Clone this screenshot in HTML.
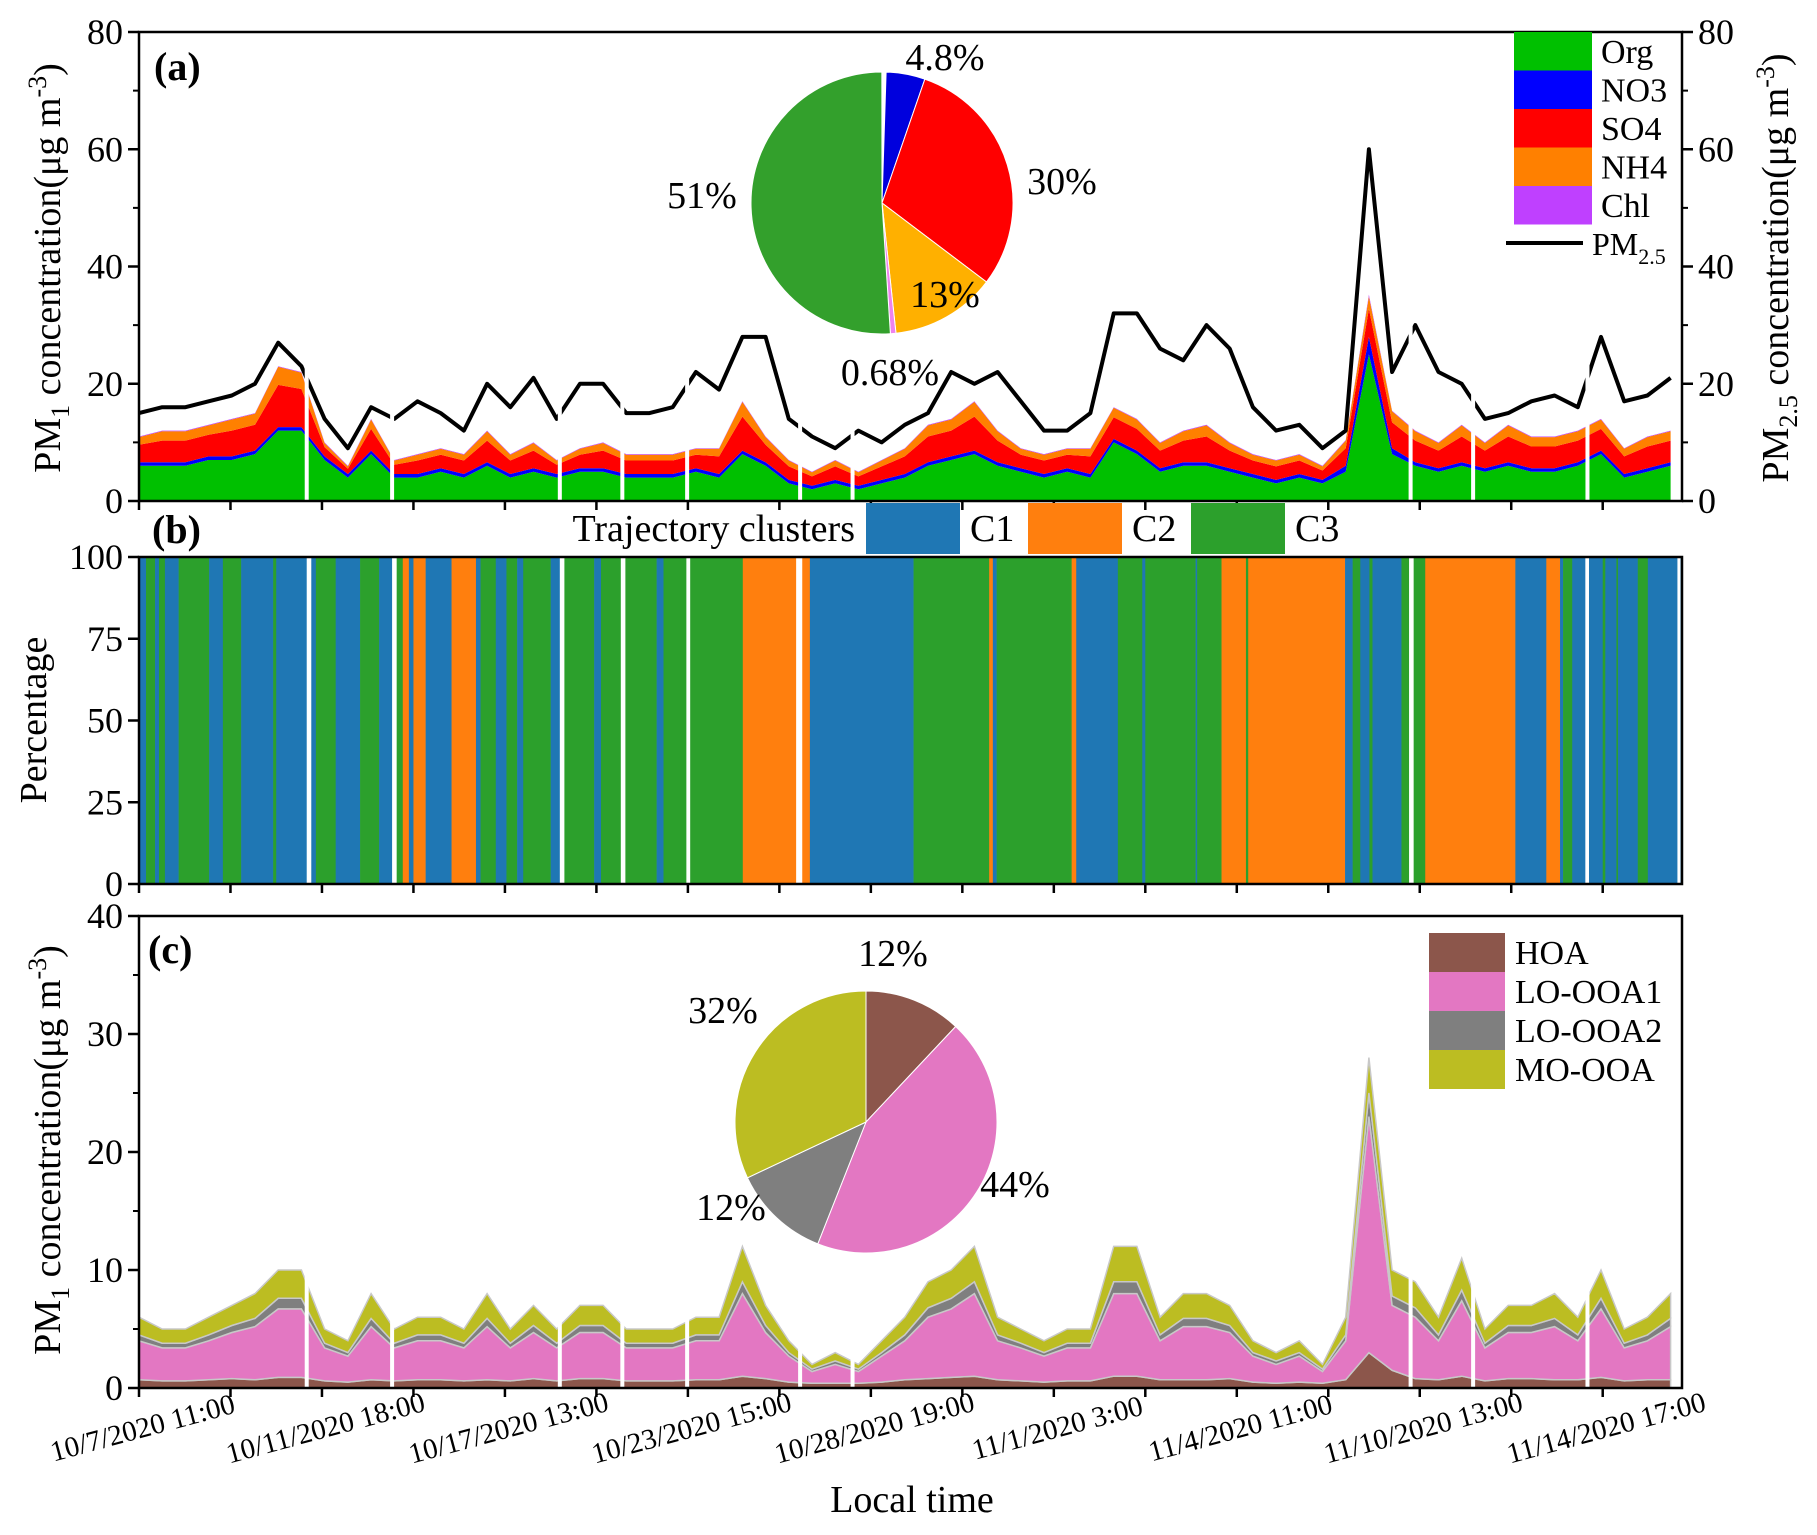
<!DOCTYPE html>
<html><head><meta charset="utf-8">
<style>
html,body{margin:0;padding:0;background:#fff;}
svg, svg text, svg tspan{font-family:"Liberation Serif","Times New Roman",serif;}
</style></head>
<body>
<svg id="chart" width="1817" height="1530" viewBox="0 0 1817 1530" font-family="Liberation Serif, serif" xmlns="http://www.w3.org/2000/svg"></svg>
<script>
// ---------- data ----------
const pm25 = [15,16,16,17,18,20,27,23,14,9,16,14,17,15,12,20,16,21,14,20,20,15,15,16,22,19,28,28,14,11,9,12,10,13,15,22,20,22,17,12,12,15,32,32,26,24,30,26,16,12,13,9,12,60,22,30,22,20,14,15,17,18,16,28,17,18,21];
const org = [6,6,6,7,7,8,12,12,7,4,8,4,4,5,4,6,4,5,4,5,5,4,4,4,5,4,8,6,3,2,3,2,3,4,6,7,8,6,5,4,5,4,10,8,5,6,6,5,4,3,4,3,5,25,8,6,5,6,5,6,5,5,6,8,4,5,6];
const no3 = [0.6,0.6,0.6,0.6,0.6,0.6,0.6,0.6,0.6,0.6,0.6,0.6,0.6,0.6,0.6,0.6,0.6,0.6,0.6,0.6,0.6,0.6,0.6,0.6,0.6,0.6,0.6,0.6,0.6,0.6,0.6,0.6,0.6,0.6,0.6,0.6,0.6,0.6,0.6,0.6,0.6,0.6,0.6,0.6,0.6,0.6,0.6,0.6,0.6,0.6,0.6,0.6,1.0,3.0,1.0,0.6,0.6,0.6,0.6,0.6,0.6,0.6,0.6,0.6,0.6,0.6,0.6];
const so4 = [3.0,3.7,3.7,3.7,4.4,4.4,7.2,6.5,1.6,0.9,3.7,1.6,2.3,2.3,2.3,3.7,2.3,3.0,1.6,2.3,3.0,2.3,2.3,2.3,2.3,3.0,5.8,3.0,2.3,1.6,2.3,1.6,2.3,3.0,4.4,4.4,5.8,3.7,2.3,2.3,2.3,3.0,3.7,3.7,3.0,3.7,4.4,3.0,2.3,2.3,2.3,1.6,3.0,4.8,4.4,3.7,3.0,4.4,3.0,4.4,3.7,3.7,3.7,3.7,3.0,3.7,3.7];
const nh4 = [1.3,1.6,1.6,1.6,1.9,1.9,3.1,2.8,0.7,0.4,1.6,0.7,1.0,1.0,1.0,1.6,1.0,1.3,0.7,1.0,1.3,1.0,1.0,1.0,1.0,1.3,2.5,1.3,1.0,0.7,1.0,0.7,1.0,1.3,1.9,1.9,2.5,1.6,1.0,1.0,1.0,1.3,1.6,1.6,1.3,1.6,1.9,1.3,1.0,1.0,1.0,0.7,1.3,2.1,1.9,1.6,1.3,1.9,1.3,1.9,1.6,1.6,1.6,1.6,1.3,1.6,1.6];
const chl = [0.1,0.1,0.1,0.1,0.1,0.1,0.1,0.1,0.1,0.1,0.1,0.1,0.1,0.1,0.1,0.1,0.1,0.1,0.1,0.1,0.1,0.1,0.1,0.1,0.1,0.1,0.1,0.1,0.1,0.1,0.1,0.1,0.1,0.1,0.1,0.1,0.1,0.1,0.1,0.1,0.1,0.1,0.1,0.1,0.1,0.1,0.1,0.1,0.1,0.1,0.1,0.1,0.1,0.3,0.1,0.1,0.1,0.1,0.1,0.1,0.1,0.1,0.1,0.1,0.1,0.1,0.1];

const hoa = [0.7,0.6,0.6,0.7,0.8,0.7,0.9,0.9,0.6,0.5, 0.7,0.6,0.7,0.7,0.6,0.7,0.6,0.8,0.6,0.8, 0.8,0.6,0.6,0.6,0.7,0.7,1.0,0.8,0.5,0.4, 0.4,0.4,0.5,0.7,0.8,0.9,1.0,0.7,0.6,0.5, 0.6,0.6,1.0,1.0,0.7,0.7,0.7,0.8,0.5,0.4, 0.5,0.4,0.7,3.0,1.5,0.8,0.7,1.0,0.6,0.8, 0.8,0.7,0.7,0.9,0.6,0.7,0.7];
const looa1 = [3.3,2.8,2.8,3.3,3.9,4.5,5.8,5.8,2.8,2.2, 4.5,2.8,3.3,3.3,2.8,4.5,2.8,3.9,2.8,3.9, 3.9,2.8,2.8,2.8,3.3,3.3,7.0,3.9,2.2,1.0, 1.6,1.0,2.2,3.3,5.2,5.8,7.0,3.3,2.8,2.2, 2.8,2.8,7.0,7.0,3.3,4.5,4.5,3.9,2.2,1.6, 2.2,1.0,3.3,20,5.5,5.2,3.3,6.4,2.8,3.9, 3.9,4.5,3.3,5.8,2.8,3.3,4.5];
const looa2 = [0.5,0.4,0.4,0.5,0.6,0.7,0.9,0.9,0.4,0.3, 0.7,0.4,0.5,0.5,0.4,0.7,0.4,0.6,0.4,0.6, 0.6,0.4,0.4,0.4,0.5,0.5,1.0,0.6,0.3,0.2, 0.3,0.2,0.3,0.5,0.8,0.9,1.0,0.5,0.4,0.3, 0.4,0.4,1.0,1.0,0.5,0.7,0.7,0.6,0.3,0.3, 0.3,0.2,0.5,2.0,0.8,0.8,0.5,0.9,0.4,0.6, 0.6,0.7,0.5,0.9,0.4,0.5,0.7];
const moooa = [1.5,1.2,1.2,1.5,1.7,2.1,2.4,2.4,1.2,1.0, 2.1,1.2,1.5,1.5,1.2,2.1,1.2,1.7,1.2,1.7, 1.7,1.2,1.2,1.2,1.5,1.5,3.0,1.7,1.0,0.4, 0.7,0.4,1.0,1.5,2.2,2.4,3.0,1.5,1.2,1.0, 1.2,1.2,3.0,3.0,1.5,2.1,2.1,1.7,1.0,0.7, 1.0,0.4,1.5,3.0,2.2,2.2,1.5,2.7,1.2,1.7, 1.7,2.1,1.5,2.4,1.2,1.5,2.1];

// trajectory cluster segments: start sample index, cluster (0 = gap)
const segStart = [0,4.6,10.5,13.1,17,26,46,55,67,88,90,110,113,116,129,145,157.5,166,169,173,177,180,188,205,221,224,234,241,248,252,270,276,279,298.5,303,316,319,339.5,344,359,361.5,396,431,435,440,508,557.6,560,562.5,611.7,614.7,642,658,660,693,694,710,726,727.5,791,796,801,807,809,828,833,836,843.6,902.7,923,932,934,940,948.6,951,960,961.7,969,970,983,989.6,1009,1011];
const segCluster = [1,3,1,3,1,3,1,3,1,3,1,0,1,3,1,3,1,0,3,2,1,2,1,2,1,3,1,3,1,3,1,0,3,1,3,0,3,1,3,0,3,2,0,2,1,3,2,1,3,2,1,3,1,3,1,3,2,3,2,1,3,1,3,1,3,0,3,2,1,2,1,3,1,0,1,3,1,3,1,3,1,0,1];
const dataGaps = [110,166,276,317,359.5,433.6,468,834,875,950];

const xTickLabels = ["10/7/2020 11:00","10/11/2020 18:00","10/17/2020 13:00","10/23/2020 15:00","10/28/2020 19:00","11/1/2020 3:00","11/4/2020 11:00","11/10/2020 13:00","11/14/2020 17:00"];
const pieAValues = [4.8,30,13,0.68,51];
const pieALabels = ["4.8%","30%","13%","0.68%","51%"];
const pieCValues = [12,44,12,32];
const pieCLabels = ["12%","44%","12%","32%"];

// ---------- layout ----------
const NS="http://www.w3.org/2000/svg";
const FONT='"Liberation Serif", "Times New Roman", serif';
const svg=document.getElementById('chart');
const L=139,R=1682, DMAX=1012, STEP=15.22;
const PA={top:32,bot:501,max:80}, PB={top:557,bot:884,max:100}, PC={top:916,bot:1388,max:40};
function X(s){return L+(s/DMAX)*(R-L);}
function Y(p,v){return p.bot-(v/p.max)*(p.bot-p.top);}
function el(tag,attrs,parent){const e=document.createElementNS(NS,tag);for(const k in attrs)e.setAttribute(k,attrs[k]);(parent||svg).appendChild(e);return e;}
function txt(s,attrs,parent){const e=el('text',attrs,parent);e.setAttribute('font-family',FONT);e.style.fontFamily=FONT;e.textContent=s;return e;}

function stack(p,series,colors,names,stroke){
  const n=series[0].length; const base=new Array(n).fill(0);
  series.forEach((ser,k)=>{
    const top=base.map((b,i)=>b+ser[i]);
    let d='';
    for(let i=0;i<n;i++) d+=(i?'L':'M')+X(i*STEP).toFixed(1)+','+Y(p,top[i]).toFixed(1);
    for(let i=n-1;i>=0;i--) d+='L'+X(i*STEP).toFixed(1)+','+Y(p,base[i]).toFixed(1);
    d+='Z';
    const a=el('path',{d:d,fill:colors[k],stroke:stroke||'none','stroke-width':stroke?1.5:0});
    
    
    for(let i=0;i<n;i++) base[i]=top[i];
  });
}
function gaps(p,vmax){
  dataGaps.forEach(g=>{
    const r=el('rect',{x:X(g)-2,y:Y(p,vmax),width:4,height:p.bot-Y(p,vmax)-1,fill:'#fff'});
    
    
  });
}
function pie(cx,cy,r,vals,colors,names,startDeg,edge){
  let a=startDeg*Math.PI/180;
  vals.forEach((v,k)=>{
    const da=v/100*2*Math.PI; const a2=a+da;
    const x1=cx+r*Math.sin(a),y1=cy-r*Math.cos(a),x2=cx+r*Math.sin(a2),y2=cy-r*Math.cos(a2);
    const s=el('path',{d:`M${cx},${cy}L${x1},${y1}A${r},${r} 0 ${da>Math.PI?1:0} 1 ${x2},${y2}Z`,fill:colors[k],stroke:edge,'stroke-width':1});
    
    
    a=a2;
  });
}
function frame(p,name){
  const f=el('rect',{x:L,y:p.top,width:R-L,height:p.bot-p.top,fill:'none',stroke:'#000','stroke-width':2.5});
  
  
  for(let s=0;s<=DMAX;s+=60){el('line',{x1:X(s),x2:X(s),y1:p.bot,y2:p.bot+9,stroke:'#000','stroke-width':2.5});}
}
function yAxis(p,step,minor,side,name){
  const g=el('g',{});  
  const x=side==='L'?L:R, dir=side==='L'?-1:1;
  for(let v=0;v<=p.max+1e-9;v+=minor){el('line',{x1:x,x2:x+dir*6,y1:Y(p,v),y2:Y(p,v),stroke:'#000','stroke-width':2},g);}
  for(let v=0;v<=p.max;v+=step){
    el('line',{x1:x,x2:x+dir*11,y1:Y(p,v),y2:Y(p,v),stroke:'#000','stroke-width':2.5},g);
    txt(String(v),{x:x+dir*16,y:Y(p,v)+12,'font-size':36,'text-anchor':side==='L'?'end':'start'},g);
  }
}

// ---------- panel a ----------
stack(PA,[org,no3,so4,nh4,chl],['#00c000','#0000ff','#ff0000','#ff8000','#bf40ff'],['org-area','no3-area','so4-area','nh4-area','chl-area']);
let dl='';pm25.forEach((v,i)=>{dl+=(i?'L':'M')+X(i*STEP).toFixed(1)+','+Y(PA,v).toFixed(1);});
const ln=el('path',{d:dl,fill:'none',stroke:'#000','stroke-width':4,'stroke-linejoin':'round'});


gaps(PA,36);
pie(882,203,131,pieAValues,['#0000dd','#ff0000','#ffb000','#ee82ee','#33a02c'],['pie-no3','pie-so4','pie-nh4','pie-chl','pie-org'],1.8,'#fff');
[[945,70],[1062,194],[945,307],[890,385],[702,208]].forEach((p,k)=>{const t=txt(pieALabels[k],{x:p[0],y:p[1],'font-size':38,'text-anchor':'middle'});});
frame(PA,'panel-a-frame');
yAxis(PA,20,10,'L','left-y-axis-a');
yAxis(PA,20,10,'R','right-y-axis-a');
txt('(a)',{x:154,y:80,'font-size':40,'font-weight':'bold'});
// legend a
const legA=el('g',{});  
[['Org','#00c000'],['NO3','#0000ff'],['SO4','#ff0000'],['NH4','#ff8000'],['Chl','#bf40ff']].forEach((e,k)=>{
  el('rect',{x:1514,y:32+k*38.5,width:78,height:38.5,fill:e[1]},legA);
  txt(e[0],{x:1601,y:63+k*38.5,'font-size':34},legA);
});
el('line',{x1:1506,x2:1583,y1:243,y2:243,stroke:'#000','stroke-width':4},legA);
const pmT=txt('PM',{x:1592,y:255,'font-size':32},legA);
const sb=el('tspan',{'font-size':22,dy:9},pmT); sb.textContent='2.5';

// titles
const ta=txt('',{transform:'translate(60,268) rotate(-90)','text-anchor':'middle','font-size':38});

ta.innerHTML='PM<tspan font-size="26" dy="9">1</tspan><tspan dy="-9"> concentration(μg m</tspan><tspan font-size="26" dy="-14">-3</tspan><tspan dy="14">)</tspan>';
const tr=txt('',{transform:'translate(1788,268) rotate(-90)','text-anchor':'middle','font-size':38});

tr.innerHTML='PM<tspan font-size="26" dy="9">2.5</tspan><tspan dy="-9"> concentration(μg m</tspan><tspan font-size="26" dy="-14">-3</tspan><tspan dy="14">)</tspan>';

// ---------- panel b ----------
const cColors={1:'#1f77b4',2:'#ff7f0e',3:'#2ca02c',0:'#ffffff'};
segStart.forEach((s,k)=>{
  const e=k+1<segStart.length?segStart[k+1]:DMAX;
  const r=el('rect',{x:X(s),y:PB.top,width:Math.max(0,X(e)-X(s))+0.3,height:PB.bot-PB.top,fill:cColors[segCluster[k]]});
  
  
});
frame(PB,'panel-b-frame');
yAxis(PB,25,25,'L','left-y-axis-b');
txt('(b)',{x:152,y:543,'font-size':40,'font-weight':'bold'});
const tb=txt('Percentage',{transform:'translate(46,720) rotate(-90)','text-anchor':'middle','font-size':38});

const legB=el('g',{});  
txt('Trajectory clusters',{x:855,y:541,'font-size':38,'text-anchor':'end'},legB);
[['C1','#1f77b4',866],['C2','#ff7f0e',1028],['C3','#2ca02c',1191]].forEach(e=>{
  el('rect',{x:e[2],y:503,width:94,height:51,fill:e[1]},legB);
  txt(e[0],{x:e[2]+104,y:541,'font-size':38},legB);
});

// ---------- panel c ----------
stack(PC,[hoa,looa1,looa2,moooa],['#8c564b','#e377c2','#7f7f7f','#bcbd22'],['hoa-area','lo-ooa1-area','lo-ooa2-area','mo-ooa-area'],'#c8c8c8');
gaps(PC,30);
pie(866,1122,131,pieCValues,['#8c564b','#e377c2','#7f7f7f','#bcbd22'],['pie-hoa','pie-lo-ooa1','pie-lo-ooa2','pie-mo-ooa'],0,'#fff');
[[893,966],[1015,1197],[731,1220],[723,1023]].forEach((p,k)=>{const t=txt(pieCLabels[k],{x:p[0],y:p[1],'font-size':38,'text-anchor':'middle'});});
frame(PC,'panel-c-frame');
yAxis(PC,10,5,'L','left-y-axis-c');
txt('(c)',{x:148,y:963,'font-size':40,'font-weight':'bold'});
const legC=el('g',{});  
[['HOA','#8c564b'],['LO-OOA1','#e377c2'],['LO-OOA2','#7f7f7f'],['MO-OOA','#bcbd22']].forEach((e,k)=>{
  el('rect',{x:1429,y:933+k*39,width:76,height:39,fill:e[1]},legC);
  txt(e[0],{x:1515,y:964+k*39,'font-size':34},legC);
});
const tc=txt('',{transform:'translate(60,1150) rotate(-90)','text-anchor':'middle','font-size':38});

tc.innerHTML='PM<tspan font-size="26" dy="9">1</tspan><tspan dy="-9"> concentration(μg m</tspan><tspan font-size="26" dy="-14">-3</tspan><tspan dy="14">)</tspan>';

// x tick labels
xTickLabels.forEach((s,k)=>{
  const x=X(k*120);
  const t=txt(s,{transform:`translate(${x+6},1437) rotate(-15)`,'text-anchor':'middle','font-size':29});
  
  
});
const xt=txt('Local time',{x:912,y:1512,'font-size':38,'text-anchor':'middle'});


</script>
</body></html>
